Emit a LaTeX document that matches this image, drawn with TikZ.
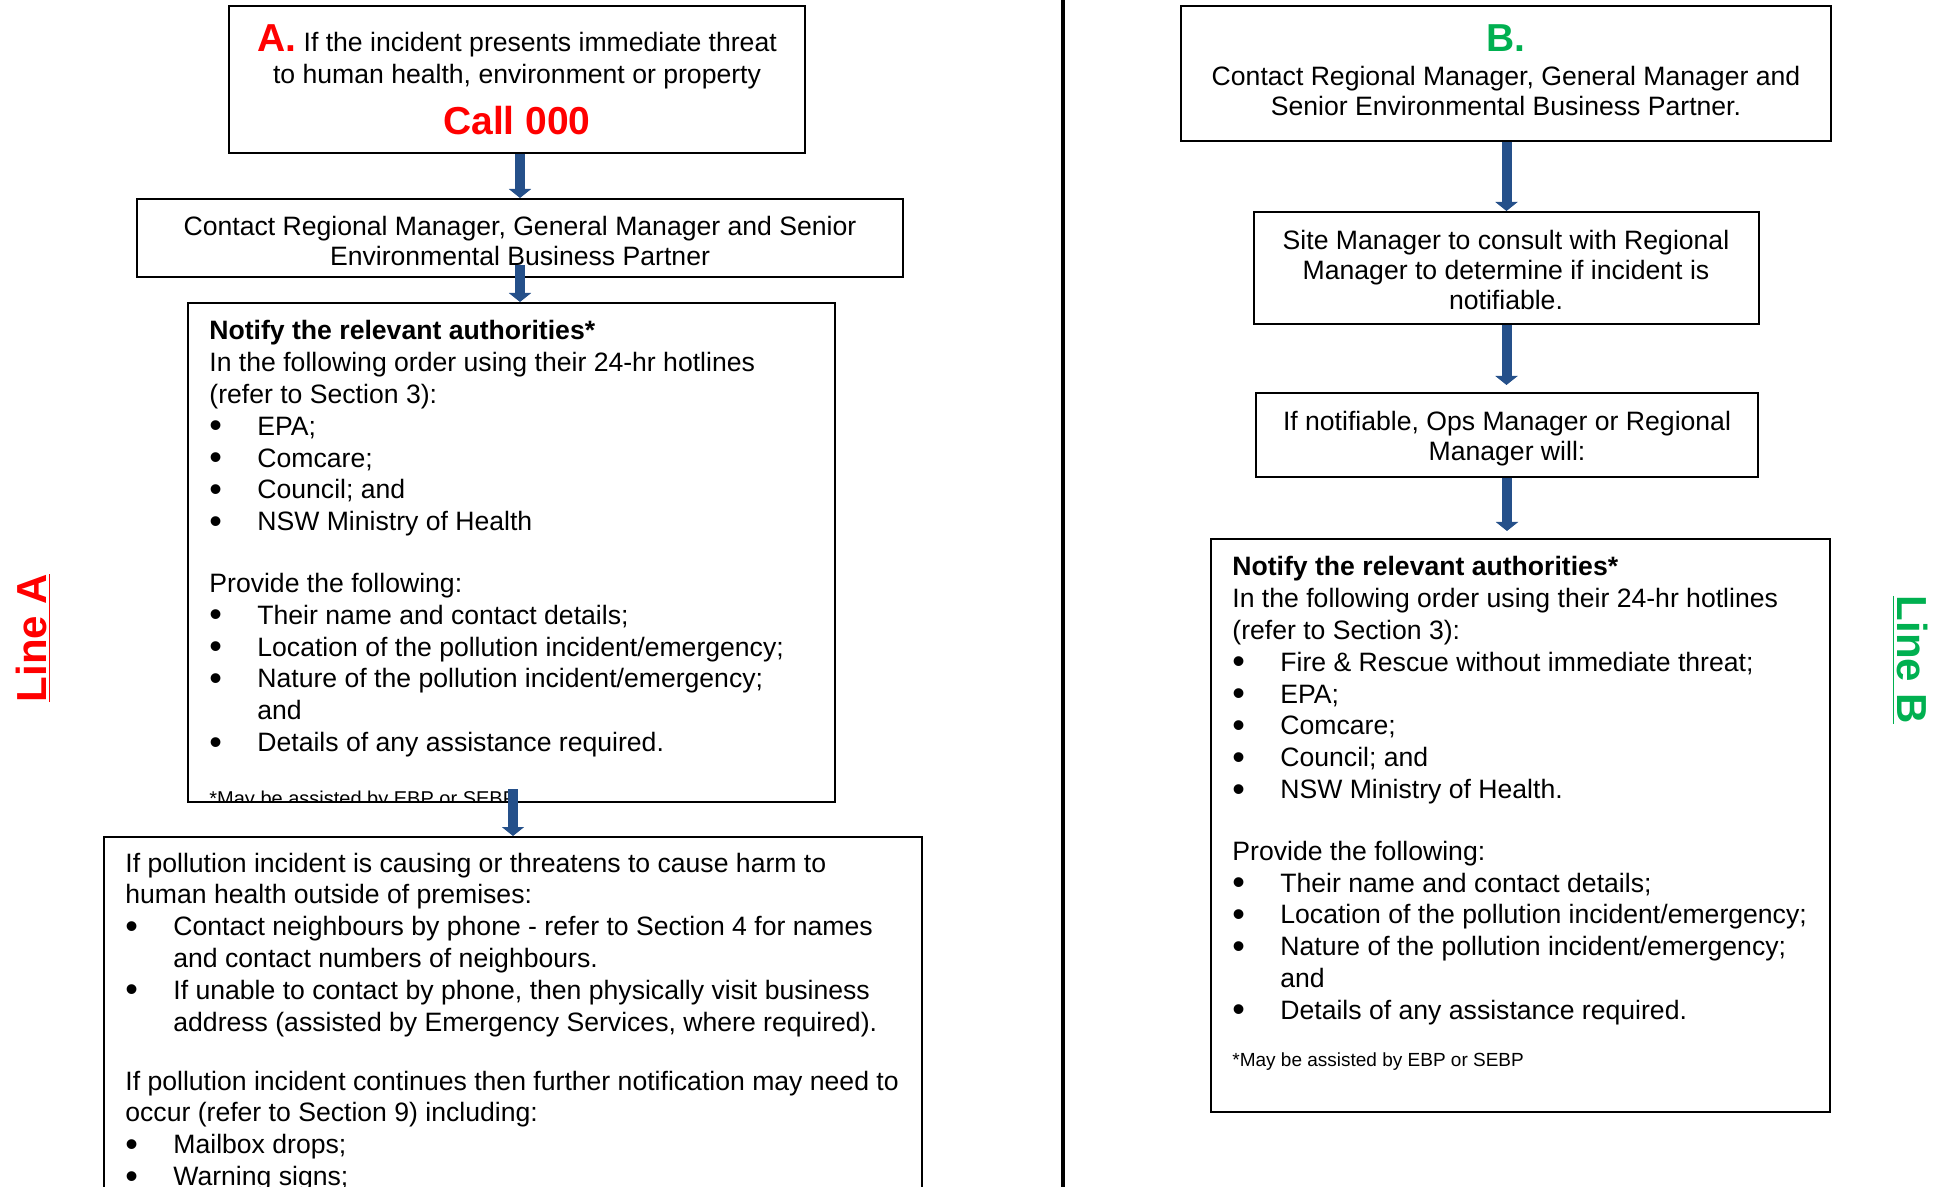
\documentclass[tikz,border=0pt]{standalone}
\usepackage{fontspec}
\setmainfont{Liberation Sans}
\usetikzlibrary{arrows.meta,fit}
\definecolor{lnRed}{HTML}{FF0000}
\definecolor{lnGreen}{HTML}{00B050}
\definecolor{lnBlue}{HTML}{25508A}
\newcommand{\lnbullet}{\raisebox{-1.3pt}{\scalebox{1.35}{\textbullet}}}
\newcommand{\lnitem}{\par\hangindent=24pt\hangafter=1\noindent\makebox[24pt][l]{\lnbullet}}

\begin{document}
\begin{tikzpicture}[x=0.5pt, y=-0.5pt,
  box/.style={draw=black, line width=1pt, inner sep=0pt},
  txt/.style={inner sep=0pt, font=\fontsize{13.3}{15.9}\selectfont},
  ctr/.style={txt, anchor=base},
  lft/.style={txt, anchor=base west},
  note/.style={inner sep=0pt, anchor=base west, font=\fontsize{9.5}{11}\selectfont},
  flow/.style={draw=lnBlue, line width=5pt, -{Triangle[width=11pt,length=4.5pt]}},
  linelbl/.style={inner sep=0pt, font=\fontsize{21}{24}\selectfont\bfseries}]
  \useasboundingbox (0,0) rectangle (1940,1187);

  % Boxes, line A
  \node[box, fit={(229,6) (805,153)}] (a1) {};
  \node[box, fit={(137,199) (903,277)}] (a2) {};
  \node[box, fit={(188,303) (835,802)}] (a3) {};
  \node[box, fit={(104,837) (922,1200)}] (a4) {};

  % Boxes, line B
  \node[box, fit={(1181,6) (1831,141)}] (b1) {};
  \node[box, fit={(1254,212) (1759,324)}] (b2) {};
  \node[box, fit={(1256,393) (1758,477)}] (b3) {};
  \node[box, fit={(1211,539) (1830,1112)}] (b4) {};

  % Divider
  \draw[line width=2pt] (1063,0) -- (1063,1187);

  % Side labels
  \node[linelbl, text=lnRed, rotate=90] (lineA) at (33,638) {\underline{Line A}};
  \node[linelbl, text=lnGreen, rotate=-90] (lineB) at (1910,660) {\underline{Line B}};

  % A: immediate threat
  \node[ctr] (a1txt) at (517,52) {\parbox[t]{400pt}{\centering\leavevmode
    {\fontsize{19.5}{20}\selectfont\bfseries\color{lnRed}A.} If the incident presents immediate threat\\
    to human health, environment or property}};
  \node[ctr, font=\fontsize{19.5}{20}\selectfont\bfseries, text=lnRed] (a1call) at (517,135) {Call 000};

  \node[ctr] (a2txt) at (520,236) {\parbox[t]{420pt}{\centering\fontsize{13.3}{14.8}\selectfont
    Contact Regional Manager, General Manager and Senior\\
    Environmental Business Partner}};

  \node[lft] (a3txt) at (209,340) {\parbox[t]{400pt}{\raggedright
    \textbf{Notify the relevant authorities*}\\
    In the following order using their 24-hr hotlines\\
    (refer to Section 3):
    \lnitem EPA;
    \lnitem Comcare;
    \lnitem Council; and
    \lnitem NSW Ministry of Health
    \par\vspace{15pt}
    Provide the following:
    \lnitem Their name and contact details;
    \lnitem Location of the pollution incident/emergency;
    \lnitem Nature of the pollution incident/emergency;\newline and
    \lnitem Details of any assistance required.}};
  \begin{scope}
    \clip (a3.north west) rectangle ([yshift=1.5pt]a3.south east);
    \node[note, font=\fontsize{10}{12}\selectfont] (a3note) at (209,805) {*May be assisted by EBP or SEBP};
  \end{scope}

  \node[lft] (a4txt) at (125,872) {\parbox[t]{500pt}{\raggedright
    If pollution incident is causing or threatens to cause harm to\\
    human health outside of premises:
    \lnitem Contact neighbours by phone - refer to Section 4 for names\newline and contact numbers of neighbours.
    \lnitem If unable to contact by phone, then physically visit business\newline address (assisted by Emergency Services, where required).
    \par\vspace{13.6pt}
    If pollution incident continues then further notification may need to\\
    occur (refer to Section 9) including:
    \lnitem Mailbox drops;
    \lnitem Warning signs;}};

  % B: no immediate threat
  \node[ctr, font=\fontsize{19.5}{20}\selectfont\bfseries, text=lnGreen] (b1lbl) at (1506,52) {B.};
  \node[ctr] (b1txt) at (1506,86) {\parbox[t]{420pt}{\centering\fontsize{13.3}{14.8}\selectfont
    Contact Regional Manager, General Manager and\\
    Senior Environmental Business Partner.}};
  \node[ctr] (b2txt) at (1506,250) {\parbox[t]{400pt}{\centering\fontsize{13.3}{14.8}\selectfont
    Site Manager to consult with Regional\\
    Manager to determine if incident is\\
    notifiable.}};
  \node[ctr] (b3txt) at (1507,431) {\parbox[t]{400pt}{\centering\fontsize{13.3}{14.8}\selectfont
    If notifiable, Ops Manager or Regional\\
    Manager will:}};

  \node[lft] (b4txt) at (1232,576) {\parbox[t]{400pt}{\raggedright
    \textbf{Notify the relevant authorities*}\\
    In the following order using their 24-hr hotlines\\
    (refer to Section 3):
    \lnitem Fire \& Rescue without immediate threat;
    \lnitem EPA;
    \lnitem Comcare;
    \lnitem Council; and
    \lnitem NSW Ministry of Health.
    \par\vspace{15pt}
    Provide the following:
    \lnitem Their name and contact details;
    \lnitem Location of the pollution incident/emergency;
    \lnitem Nature of the pollution incident/emergency;\newline and
    \lnitem Details of any assistance required.}};
  \node[note] (b4note) at (1232,1066) {*May be assisted by EBP or SEBP};

  % Arrows
  \draw[flow] (a2.north |- a1.south) -- (a2.north);
  \draw[flow] ([yshift=6.5pt]a2.south) -- (a2.south |- a3.north);
  \draw[flow] ([yshift=7pt]a3.south -| a4.north) -- (a4.north);
  \draw[flow] (b2.north |- b1.south) -- (b2.north);
  \draw[flow, shorten >=3.5pt] (b2.south) -- (b2.south |- b3.north);
  \draw[flow, shorten >=3.5pt] (b3.south) -- (b3.south |- b4.north);

\end{tikzpicture}
\end{document}
